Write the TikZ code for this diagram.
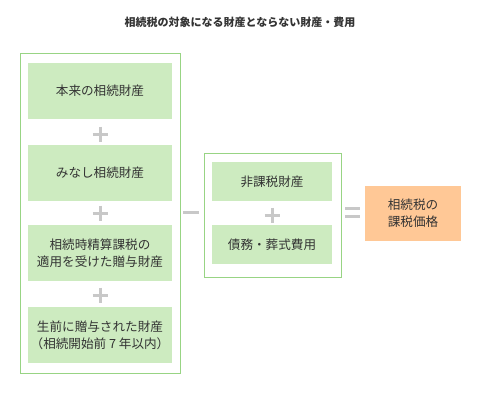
\documentclass[tikz,border=0pt]{standalone}
\usepackage{fontspec}
\setmainfont{Noto Sans CJK JP}
\usetikzlibrary{positioning}
\definecolor{boxgreen}{HTML}{CDEBC0}
\definecolor{framegreen}{HTML}{98D484}
\definecolor{sumorange}{HTML}{FFC896}
\definecolor{signgray}{HTML}{C8C8C8}
\definecolor{textgray}{HTML}{333333}
\tikzstyle{item box}=[fill=boxgreen, minimum width=144pt, minimum height=56pt,
  inner sep=0pt, align=center, text=textgray, font=\fontsize{12.6}{17}\selectfont]
\tikzstyle{small item}=[item box, minimum width=120pt, minimum height=39pt]
\tikzstyle{total box}=[item box, fill=sumorange, minimum width=96pt, minimum height=55pt]
\tikzstyle{group frame}=[draw=framegreen, line width=1pt]
\tikzstyle{sign bar}=[draw=signgray, line width=3pt]
\newcommand{\plussign}[2]{
  \coordinate (#1) at #2;
  \draw[sign bar] (#1) ++(-7.5,0) -- ++(15,0) (#1) ++(0,-7.5) -- ++(0,15)
}

\begin{document}
\begin{tikzpicture}[x=1pt, y=-1pt]
        \path[use as bounding box] (0,0) rectangle (480,400);
        \node[text=textgray, font=\fontsize{11}{13}\selectfont\bfseries] (title) at (240,22)
          {相続税の対象になる財産とならない財産・費用};

        % left group
        \draw[group frame] (20,53) rectangle (180,373);
        \node[item box] (honrai) at (100,91) {本来の相続財産};
        \node[item box] (minashi) at (100,173) {みなし相続財産};
        \node[item box] (seisan) at (100,253) {相続時精算課税の\\適用を受けた贈与財産};
        \node[item box] (zoyo) at (100,335) {生前に贈与された財産\\（相続開始前 7 年以内）};
        \plussign{p1}{(100,134)};
        \plussign{p2}{(100,213)};
        \plussign{p3}{(100,295)};

        % minus
        \coordinate (minus) at (191,212);
        \draw[sign bar] (minus) ++(-8,0) -- ++(16,0);

        % middle group
        \draw[group frame] (204,153) rectangle (341,277);
        \node[small item] (hikazei) at (272,181.5) {非課税財産};
        \node[small item] (saimu) at (272,244.5) {債務・葬式費用};
        \plussign{p4}{(272,215)};

        % equals
        \coordinate (equals) at (352.5,212.5);
        \draw[sign bar] (equals) ++(-7.5,-4.3) -- ++(15,0) (equals) ++(-7.5,4.3) -- ++(15,0);

        \node[total box] (kakaku) at (413,213.5) {相続税の\\課税価格};
      \end{tikzpicture}
\end{document}
